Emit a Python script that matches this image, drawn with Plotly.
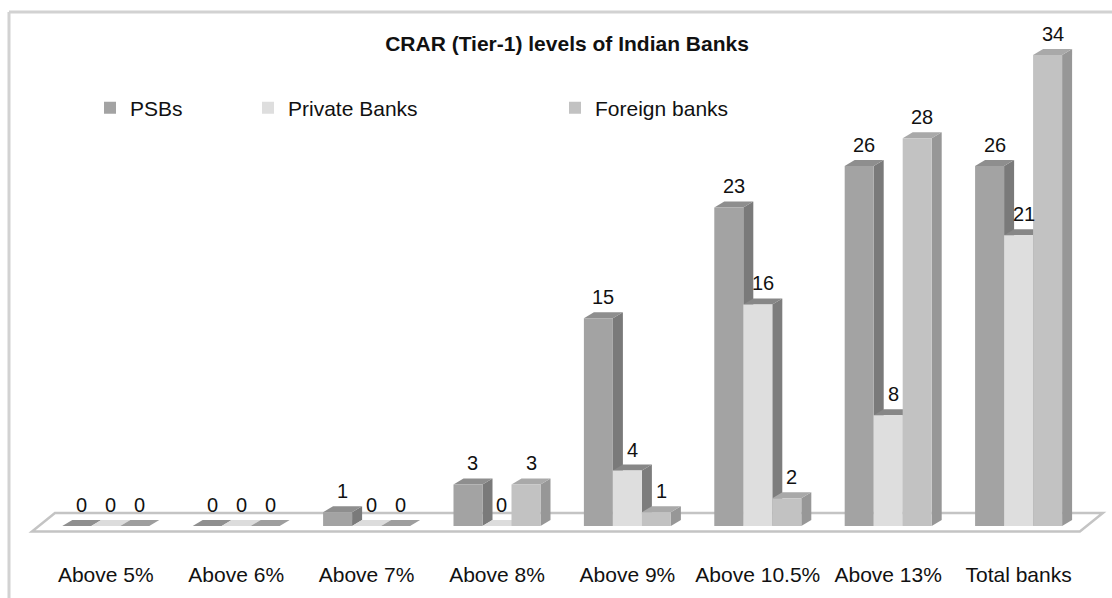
import plotly.graph_objects as go

# ---- data ----
categories = ["Above 5%", "Above 6%", "Above 7%", "Above 8%", "Above 9%",
              "Above 10.5%", "Above 13%", "Total banks"]
series_names = ["PSBs", "Private Banks", "Foreign banks"]
psbs = [0, 0, 1, 3, 15, 23, 26, 26]
private_banks = [0, 0, 0, 0, 4, 16, 8, 21]
foreign_banks = [0, 0, 0, 3, 1, 2, 28, 34]

# ---- styling ----
W, H = 1112, 598
MB = 38                      # bottom margin for category labels
X_RANGE = [-0.8113, 7.7163]  # 130.4 px per category
Y_RANGE = [-2.455, 37.978]   # 13.85 px per unit
BAR_W = 0.2224               # width of one column front
DX, DY = 0.0767, 0.433       # depth offset of the pseudo-3D faces
FONT = "Liberation Sans, Arial, sans-serif"

styles = [
    # front, side, top, flat (zero-height top)
    dict(front="#a3a3a3", side="#7a7a7a", top="#8e8e8e", flat="#8f8f8f"),
    dict(front="#dedede", side="#7d7d7d", top="#878787", flat="#dcdcdc"),
    dict(front="#c2c2c2", side="#979797", top="#a9a9a9", flat="#9e9e9e"),
]
values = [psbs, private_banks, foreign_banks]
n = len(categories)
xs = list(range(n))
offsets = [-1.5 * BAR_W + j * BAR_W for j in range(3)]

fig = go.Figure()
shapes = []

# floor of the chart
fl, fr = -0.566, n - 0.53
fy0, fy1 = -0.40, 0.94
fdx = 0.176
shapes.append(dict(
    type="path", xref="x", yref="y", layer="below",
    path=f"M{fl},{fy0} L{fr},{fy0} L{fr + fdx},{fy1} L{fl + fdx},{fy1} Z",
    fillcolor="white", line=dict(color="#c4c4c4", width=2.5)))

annotations = []
for i in xs:
    for j in range(3):
        v = values[j][i]
        st = styles[j]
        x0 = i + offsets[j]
        x1 = x0 + BAR_W
        # side face
        if v > 0:
            shapes.append(dict(
                type="path", xref="x", yref="y", layer="below",
                path=f"M{x1},0 L{x1 + DX},{DY} L{x1 + DX},{v + DY} L{x1},{v} Z",
                fillcolor=st["side"], line=dict(width=0)))
        # top face
        shapes.append(dict(
            type="path", xref="x", yref="y", layer="below",
            path=f"M{x0},{v} L{x1},{v} L{x1 + DX},{v + DY} L{x0 + DX},{v + DY} Z",
            fillcolor=st["top"] if v > 0 else st["flat"], line=dict(width=0)))
        # value label
        annotations.append(dict(
            x=x0 + BAR_W / 2 + DX / 2, y=v + DY, xref="x", yref="y",
            text=str(v), showarrow=False, yanchor="bottom", yshift=2,
            font=dict(family=FONT, size=20, color="#111111")))

legend_px = [90, 248, 555]
for j in range(3):
    lg = "legend" if j == 0 else f"legend{j + 1}"
    fig.add_trace(go.Bar(
        x=xs, y=values[j], width=BAR_W, offset=offsets[j],
        name=series_names[j], legend=lg,
        marker=dict(color=styles[j]["front"], line=dict(width=0)),
        hoverinfo="skip"))

# outer frame (top and left edges)
frame_top = 1 - 12 / (H - MB)
shapes.append(dict(type="line", xref="paper", yref="paper",
                   x0=9 / W, x1=1.01, y0=frame_top, y1=frame_top,
                   line=dict(color="#d2d2d2", width=3)))
shapes.append(dict(type="line", xref="paper", yref="paper",
                   x0=9 / W, x1=9 / W, y0=frame_top, y1=-MB / (H - MB) - 0.01,
                   line=dict(color="#d2d2d2", width=3)))

legend_y = 1 - 108 / (H - MB)
legend_common = dict(orientation="h", yanchor="middle", xanchor="left",
                     y=legend_y, bgcolor="rgba(0,0,0,0)",
                     font=dict(family=FONT, size=21, color="#111111"))

fig.update_layout(
    width=W, height=H,
    margin=dict(l=0, r=0, t=0, b=MB),
    paper_bgcolor="white", plot_bgcolor="rgba(0,0,0,0)",
    barmode="overlay",
    title=dict(text="<b>CRAR (Tier-1) levels of Indian Banks</b>",
               x=567 / W, xanchor="center", y=1 - 44 / H, yanchor="middle",
               font=dict(family=FONT, size=21, color="#111111")),
    xaxis=dict(range=X_RANGE, tickvals=xs, ticktext=categories,
               showgrid=False, zeroline=False, showline=False, ticks="",
               tickfont=dict(family=FONT, size=21, color="#111111"),
               fixedrange=True),
    yaxis=dict(range=Y_RANGE, visible=False, fixedrange=True),
    legend=dict(x=legend_px[0] / W, **legend_common),
    legend2=dict(x=legend_px[1] / W, **legend_common),
    legend3=dict(x=legend_px[2] / W, **legend_common),
    shapes=shapes,
    annotations=annotations,
    showlegend=True,
)

fig.write_html("out.html")
